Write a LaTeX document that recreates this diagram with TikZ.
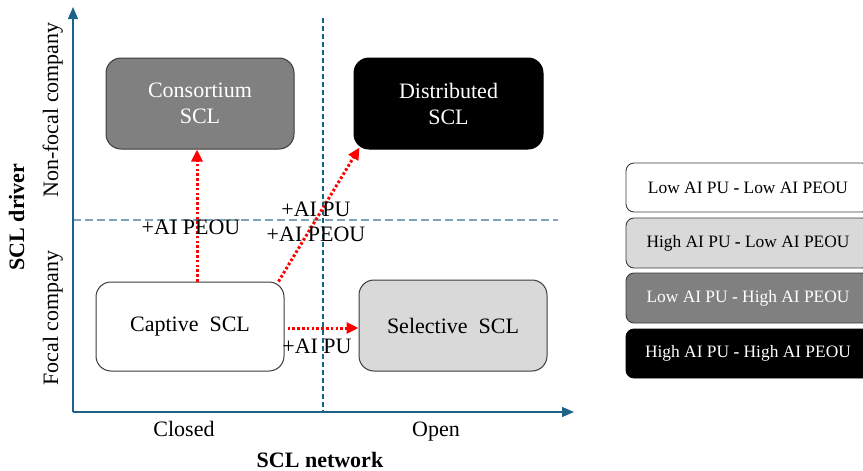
\documentclass[tikz,border=0pt]{standalone}
\usepackage{fontspec}
\setmainfont{Liberation Serif}
\usetikzlibrary{arrows.meta,calc}
\definecolor{axisblue}{RGB}{28,98,138}
\definecolor{vdash}{RGB}{15,100,145}
\definecolor{hdash}{RGB}{125,165,185}
\definecolor{midgray}{RGB}{128,128,128}
\definecolor{lightgray}{RGB}{217,217,217}
\definecolor{edge}{RGB}{60,60,60}
\begin{document}
\begin{tikzpicture}[x=1pt,y=-1pt,
  big/.style={font=\fontsize{22}{26}\selectfont},
  quad/.style={draw=edge,line width=1pt,rounded corners=15pt,minimum width=188pt,minimum height=90pt,align=center,inner sep=0pt,big},
  leg/.style={draw=edge,line width=0.9pt,rounded corners=8pt,minimum width=244pt,minimum height=49pt,inner sep=0pt,font=\fontsize{17.4}{20}\selectfont},
  lbl/.style={anchor=base,inner sep=0pt,big},
  redarrow/.style={draw=red,line width=3pt,dash pattern=on 2.6pt off 2.2pt,-{Triangle[length=12pt,width=11pt,fill=red]}},
  axis/.style={draw=axisblue,line width=1.2pt,-{Triangle[length=12pt,width=10pt]}}
]
\clip (0,0) rectangle (863,471);
\useasboundingbox (0,0) rectangle (863,471);

% axes
\coordinate (o) at (73,412);
\coordinate (ytip) at (73,7);
\coordinate (xtip) at (574,412);
\coordinate (vtop) at (323,18);
\coordinate (vbot) at (323,412);
\coordinate (hl) at (73,220);
\coordinate (hr) at (558,220);
\draw[vdash,line width=1.2pt,dash pattern=on 5pt off 3pt] (vtop) -- (vbot);
\draw[hdash,line width=1.2pt,dash pattern=on 8pt off 4pt] (hl) -- (hr);
\draw[axis] (o) -- (ytip);
\draw[axis] (o) -- (xtip);

% quadrant boxes
\node[quad,fill=midgray,text=white,minimum height=91pt] (cons) at (200,103.5) {Consortium\\SCL};
\node[quad,fill=black,draw=black,text=white,minimum width=189pt,minimum height=91pt] (dist) at (448.5,103.5) {Distributed\\SCL};
\node[quad,fill=white,minimum height=89pt] (cap) at (190,326.5) {Captive\ \ SCL};
\node[quad,fill=lightgray,minimum height=91pt] (sel) at (453,325.5) {Selective\ \ SCL};

% transitions
\draw[redarrow] (cap.north -| 197,0) -- (cons.south -| 197,0);
\draw[redarrow] ($(cap.north east)+(-6,0)$) -- ($(dist.south west)+(6,-2)$);
\draw[redarrow,shorten <=3pt] ($(cap.east)+(0,1.5)$) -- ($(sel.west)+(0,2.5)$);

\node[lbl] (l1) at (191,234) {+AI PEOU};
\node[lbl] (l2) at (316,216) {+AI PU};
\node[lbl] (l3) at (316,241) {+AI PEOU};
\node[lbl] (l4) at (317,353) {+AI PU};

% axis labels
\node[lbl] (closed) at (184,436) {Closed};
\node[lbl] (open) at (436,436) {Open};
\node[lbl,font=\fontsize{22}{26}\selectfont\bfseries] (xlab) at (320,467) {SCL network};
\node[lbl,rotate=90,font=\fontsize{22}{26}\selectfont\bfseries] (ylab) at (24,217) {SCL driver};
\node[lbl,rotate=90] (nonfocal) at (58,110) {Non-focal company};
\node[lbl,rotate=90] (focal) at (58,318) {Focal company};

% legend
\node[leg,fill=white] (lg1) at (748,187.5) {Low AI PU \textbf{-} Low AI PEOU};
\node[leg,fill=lightgray,minimum height=50pt] (lg2) at (748,243) {High AI PU \textbf{-} Low AI PEOU};
\node[leg,fill=midgray,text=white,minimum height=50pt] (lg3) at (748,298) {Low AI PU \textbf{-} High AI PEOU};
\node[leg,fill=black,draw=black,text=white] (lg4) at (748,353.5) {High AI PU \textbf{-} High AI PEOU};
\end{tikzpicture}
\end{document}
